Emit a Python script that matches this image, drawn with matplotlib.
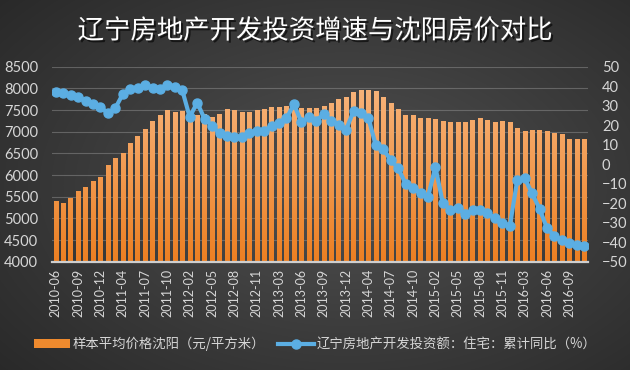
import numpy as np
import matplotlib
matplotlib.use("Agg")
import matplotlib.pyplot as plt
from matplotlib.patches import Patch
from matplotlib.lines import Line2D
from matplotlib.colors import LinearSegmentedColormap
import matplotlib.patheffects as pe

# ---------------- data ----------------
months = (["2010-%02d" % m for m in range(6, 13)] +
          ["%d-%02d" % (y, m) for y in range(2011, 2016) for m in range(2, 13)] +
          ["2016-%02d" % m for m in range(2, 12)])

price = [5400, 5360, 5470, 5630, 5720, 5860, 5950, 6230, 6400, 6515,
         6745, 6900, 7060, 7250, 7388, 7500, 7462, 7488, 7390, 7386,
         7410, 7330, 7410, 7518, 7500, 7462, 7462, 7500, 7520, 7570,
         7570, 7592, 7560, 7540, 7550, 7540, 7590, 7670, 7755, 7795,
         7920, 7958, 7968, 7950, 7805, 7670, 7522, 7388, 7388, 7318,
         7318, 7292, 7248, 7226, 7215, 7230, 7278, 7320, 7270, 7232,
         7248, 7226, 7084, 7022, 7036, 7044, 7018, 6970, 6950, 6836,
         6822, 6822]

invest = [37.2, 36.3, 35.5, 34.4, 32.6, 31.0, 29.4, 26.1, 28.7, 35.9,
          38.8, 39.3, 40.6, 39.2, 38.6, 40.8, 39.6, 37.9, 24.2, 31.6,
          23.2, 19.8, 15.8, 14.4, 13.8, 13.7, 16.2, 17.2, 17.1, 19.8,
          21.0, 23.5, 30.8, 21.5, 24.3, 22.2, 25.9, 22.2, 20.3, 17.7,
          27.1, 26.2, 23.7, 9.6, 7.7, 2.1, -2.1, -10.0, -12.4, -15.0,
          -16.8, -1.5, -20.0, -23.3, -22.3, -25.7, -23.5, -23.3, -25.2, -27.8,
          -30.3, -31.7, -8.1, -7.3, -15.0, -23.0, -32.9, -36.8, -38.9, -40.6,
          -41.4, -41.9]

left_ticks = list(range(4000, 8501, 500))
right_ticks = list(range(-50, 51, 10))

title = "辽宁房地产开发投资增速与沈阳房价对比"
bar_label = "样本平均价格沈阳（元/平方米）"
line_label = "辽宁房地产开发投资额：住宅：累计同比（%）"

# ---------------- style ----------------
cjk = ["Noto Sans CJK SC", "DejaVu Sans"]
num_font = ["Lato", "DejaVu Sans"]
txt_col = "#d6d6d6"
bar_col = "#F29A45"
line_col = "#5BAEE3"

W, H = 630, 370
fig = plt.figure(figsize=(W / 100, H / 100), dpi=100)

# background radial gradient
bg = fig.add_axes([0, 0, 1, 1], zorder=-10)
yy, xx = np.mgrid[0:H, 0:W]
r = np.sqrt(((xx - W * 0.55) / (W * 0.75)) ** 2 + ((yy - H * 0.5) / (H * 0.8)) ** 2)
r = np.clip(r, 0, 1)
c_in, c_out = np.array([80, 80, 80]), np.array([40, 40, 40])
img = (c_in[None, None, :] * (1 - r[..., None]) + c_out[None, None, :] * r[..., None]) / 255.0
bg.imshow(img, aspect="auto", extent=[0, 1, 0, 1])
bg.set_axis_off()

# main axes
left, right = 52, 588
top, bottom = 66.7, 261.7
ax = fig.add_axes([left / W, 1 - bottom / H, (right - left) / W, (bottom - top) / H])
ax.patch.set_alpha(0)
x = np.arange(len(months))
bars = ax.bar(x, price, width=0.57, color=bar_col, zorder=2)
ax.set_ylim(4000, 8500)
ax.set_xlim(-0.5, len(months) - 0.5)

# vertical gradient fill on each bar (light at top, deeper orange at bottom)
cmap = LinearSegmentedColormap.from_list("og", ["#EC7F22", "#F7B37A"])
grad = np.linspace(0, 1, 256).reshape(-1, 1)
for b in bars:
    bx, by = b.get_x(), b.get_y()
    bw, bh = b.get_width(), b.get_height()
    im = ax.imshow(grad, cmap=cmap, origin="lower", aspect="auto",
                   extent=[bx, bx + bw, 4000, 8000], zorder=2.1)
    im.set_clip_path(b)
ax.set_xlim(-0.5, len(months) - 0.5)
ax.set_ylim(4000, 8500)

ax.set_yticks(left_ticks)
ax.grid(axis="y", color="#9a9a9a", alpha=0.45, lw=0.8, zorder=0)
ax.set_axisbelow(True)
for s in ["top", "right", "left"]:
    ax.spines[s].set_visible(False)
ax.spines["bottom"].set_color("#cfcfcf")
ax.spines["bottom"].set_linewidth(1.6)
ax.spines["bottom"].set_zorder(5)
ax.tick_params(axis="both", length=0, colors=txt_col)
ax.tick_params(axis="y", labelsize=10.5, pad=10)
ax.set_xticks(x[::3])
ax.set_xticklabels(months[::3], rotation=90, fontsize=9, family=num_font)
ax.tick_params(axis="x", pad=5)
for lab in ax.get_yticklabels():
    lab.set_family(num_font)

ax2 = ax.twinx()
ax2.patch.set_alpha(0)
ax2.plot(x, invest, color=line_col, lw=3, marker="o", ms=6.5,
         markeredgecolor=line_col, zorder=4)
ax2.set_ylim(-50, 50)
ax2.set_yticks(right_ticks)
for s in ["top", "right", "left", "bottom"]:
    ax2.spines[s].set_visible(False)
ax2.tick_params(axis="y", length=0, colors=txt_col, labelsize=10.5, pad=10)
for lab in ax2.get_yticklabels():
    lab.set_family(num_font)

# title
fig.text(0.5, 1 - 31 / H, title, ha="center", va="center", color="white",
         fontsize=19, family=cjk,
         path_effects=[pe.withSimplePatchShadow(offset=(1.5, -1.5), shadow_rgbFace="black", alpha=0.6)])

# legend
handles = [Patch(facecolor="#EE8A2E", edgecolor="none"),
           Line2D([0], [0], color=line_col, lw=3, marker="o", ms=6.5)]
leg = fig.legend(handles, [bar_label, line_label], loc="center",
                 bbox_to_anchor=(0.5, 1 - 344 / H), ncol=2, frameon=False,
                 prop={"family": cjk, "size": 9.6}, handlelength=2.7,
                 handletextpad=0.2, columnspacing=1.0)
for t in leg.get_texts():
    t.set_color(txt_col)

fig.savefig("out.png", dpi=100)
